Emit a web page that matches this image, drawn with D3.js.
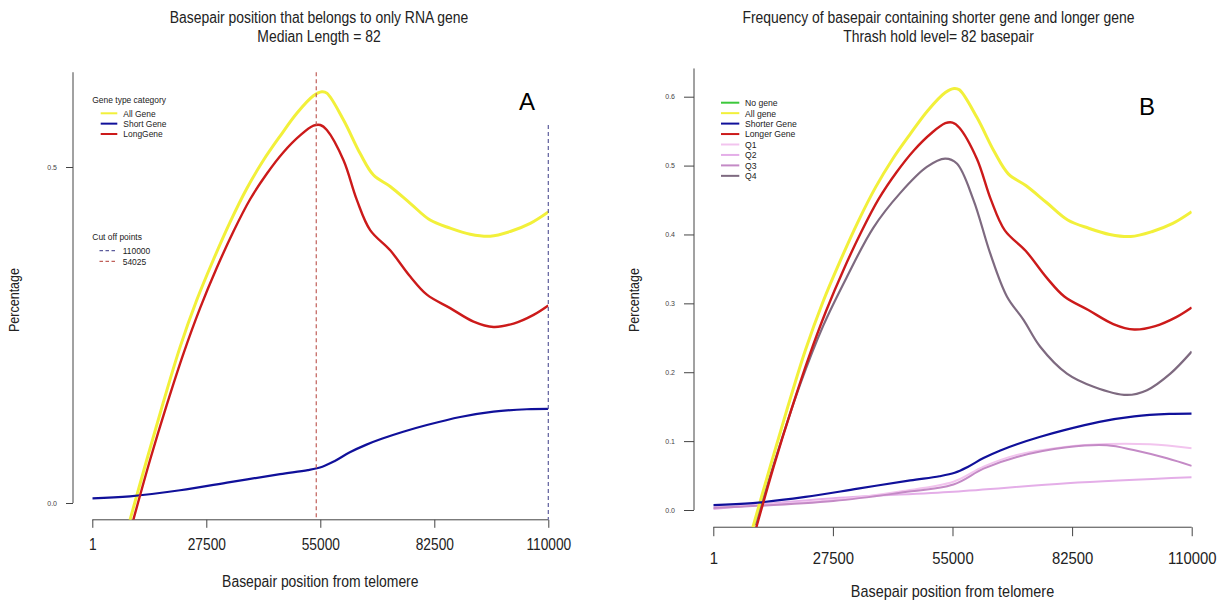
<!DOCTYPE html>
<html lang="en">
<head>
<meta charset="UTF-8">
<title>Basepair position plots</title>
<script src="https://d3js.org/d3.v7.min.js"></script>
<style>
  body { margin: 0; background: #fff; }
  text { font-family: "Liberation Sans", Arial, sans-serif; fill: #222; }
</style>
</head>
<body>
<svg id="fig" width="1227" height="601"></svg>
<script>
// values: [basepair position, fraction]
const allGene = [[9100,-0.025],[13130,0.064],[17140,0.150],[21170,0.232],[25200,0.302],[29210,0.362],[33240,0.418],[37270,0.468],[41280,0.510],[45300,0.546],[49340,0.580],[53350,0.606],[55370,0.612],[56580,0.610],[60600,0.570],[64620,0.520],[67830,0.488],[71860,0.471],[76690,0.446],[81500,0.421],[86330,0.409],[91160,0.400],[95990,0.397],[100820,0.404],[105650,0.416],[110000,0.433]];
const longGene = [[9900,-0.025],[13930,0.064],[17960,0.146],[21970,0.222],[26000,0.290],[30030,0.350],[34040,0.404],[38070,0.452],[42090,0.490],[46110,0.522],[50130,0.547],[53350,0.5615],[55000,0.5625],[56580,0.555],[60600,0.510],[63810,0.451],[67030,0.406],[71860,0.376],[76690,0.337],[80710,0.310],[86330,0.290],[91960,0.270],[96790,0.262],[101620,0.267],[106450,0.280],[110000,0.294]];
const shortGene = [[1,0.007],[9100,0.010],[21170,0.019],[33240,0.031],[45300,0.043],[52000,0.049],[55500,0.054],[58500,0.0625],[62130,0.0755],[66000,0.0865],[69810,0.0955],[75000,0.106],[80710,0.116],[88750,0.128],[96790,0.136],[104840,0.1395],[110000,0.140]];
const q1 = [[1,0.004],[27610,0.0145],[42960,0.027],[55220,0.041],[62130,0.063],[69810,0.080],[81310,0.092],[90530,0.0958],[100470,0.0953],[110000,0.0895]];
const q2 = [[1,0.0015],[27610,0.017],[55220,0.0266],[81310,0.0387],[110000,0.0474]];
const q3 = [[1,0.003],[27610,0.013],[42960,0.025],[55220,0.037],[62130,0.060],[69810,0.077],[81310,0.091],[90530,0.094],[96640,0.087],[104320,0.075],[110000,0.064]];
const q4 = [[9600,-0.022],[14590,0.080],[19950,0.182],[25310,0.268],[30690,0.338],[36820,0.410],[42960,0.460],[49100,0.498],[53300,0.510],[56000,0.503],[59830,0.450],[63670,0.3725],[67510,0.310],[71330,0.276],[75170,0.237],[81310,0.198],[87440,0.179],[95120,0.167],[99720,0.174],[105090,0.198],[110000,0.230]];

const xTicks = [1, 27500, 55000, 82500, 110000];
const yTicksA = [0.0, 0.5];
const yTicksB = [0.0, 0.1, 0.2, 0.3, 0.4, 0.5, 0.6];
const cutOffs = [110000, 54025];
const cutOffTops = [0.5625, 0.641];

const legendA = ["All Gene", "Short Gene", "LongGene"];
const legendB = ["No gene", "All gene", "Shorter Gene", "Longer Gene", "Q1", "Q2", "Q3", "Q4"];

const col = {
  none: "#3cc83c", all: "#f2f03a", short: "#10109a", long: "#cc1a1a",
  q1: "#f2c4ee", q2: "#e4aee8", q3: "#c48ac6", q4: "#7e6a80",
  cutBlue: "#5c5c9c", cutRed: "#c0605a"
};

const svg = d3.select("#fig");
const SX = 0.87; // the picture is squeezed sideways

function txt(g, s, x, y, size, anchor, sx) {
  return g.append("text")
    .attr("transform", `translate(${x},${y}) scale(${sx || SX},1)`)
    .attr("text-anchor", anchor || "start")
    .style("font-size", size + "px")
    .text(s);
}

function panel(cfg) {
  const g = svg.append("g");
  const x = d3.scaleLinear().domain([1, 110000]).range(cfg.xr);
  const y = d3.scaleLinear().domain([0, cfg.yTickMax]).range([cfg.y0, cfg.yTickPx]);
  const yBot = y(-0.025), yTop = y(0.641);

  g.append("clipPath").attr("id", "clip" + cfg.id)
    .append("rect").attr("x", cfg.xr[0]).attr("y", yTop)
    .attr("width", cfg.xr[1] - cfg.xr[0]).attr("height", yBot - yTop);

  // x axis
  const xa = g.append("g").attr("transform", `translate(0,${yBot})`)
    .call(d3.axisBottom(x).tickValues(xTicks).tickFormat(d3.format("d"))
      .tickSize(cfg.xTick).tickSizeOuter(0).tickPadding(cfg.xPad));
  xa.selectAll("text").style("font-size", cfg.xFont + "px").attr("transform", `scale(${cfg.xSx},1)`).style("fill", "#222");
  xa.selectAll("path,line").attr("stroke", "#444");
  xa.select(".domain").attr("d", `M${cfg.xr[0]},0H${cfg.xr[1]}`);

  // y axis
  const yAx = y.copy().domain([0, 0.641]).range([y(0), yTop]);
  const ya = g.append("g").attr("transform", `translate(${cfg.yAxisX},0)`)
    .call(d3.axisLeft(yAx).tickValues(cfg.yTicks).tickFormat(d3.format(".1f"))
      .tickSize(cfg.yTick).tickSizeOuter(0).tickPadding(9));
  ya.selectAll("text").style("font-size", "7px").style("fill", "#444");
  ya.selectAll("path,line").attr("stroke", "#444");
  ya.select(".domain").attr("d", `M0,${y(0)}V${yTop}`);

  const line = d3.line().x(d => x(d[0])).y(d => y(d[1])).curve(d3.curveCatmullRom.alpha(0.5));
  const curves = g.append("g").attr("clip-path", `url(#clip${cfg.id})`);
  cfg.series.forEach(s => {
    curves.append("path").datum(s.data).attr("d", line)
      .attr("fill", "none").attr("stroke", s.color).attr("stroke-width", s.w)
      .attr("stroke-linejoin", "round");
  });

  if (cfg.cut) {
    cutOffs.forEach((c, i) => {
      g.append("line").attr("x1", x(c)).attr("x2", x(c))
        .attr("y1", y(cutOffTops[i])).attr("y2", yBot)
        .attr("stroke", i === 0 ? col.cutBlue : col.cutRed)
        .attr("stroke-width", 1.2).attr("stroke-dasharray", "4,3");
    });
  }

  // titles
  txt(g, cfg.title[0], cfg.tx, 23, 16, "middle", cfg.tsx[0]);
  txt(g, cfg.title[1], cfg.tx, 42, 16, "middle", cfg.tsx[1]);
  txt(g, "Basepair position from telomere", (cfg.xr[0] + cfg.xr[1]) / 2, cfg.xTitleY, 16, "middle", cfg.xTitleSx);
  g.append("text").attr("transform", `translate(${cfg.yTitleX},${cfg.yTitleY}) rotate(-90)`)
    .attr("text-anchor", "middle").style("font-size", "15px").attr("textLength", 64)
    .attr("lengthAdjust", "spacingAndGlyphs").text("Percentage");
  g.append("text").attr("x", cfg.letter[0]).attr("y", cfg.letter[1])
    .attr("text-anchor", "middle").style("font-size", "24px").style("fill", "#000")
    .text(cfg.id);
  return { g, x, y };
}

// Panel A
const A = panel({
  id: "A", xr: [92.3, 548.3], y0: 503, yTickMax: 0.5, yTickPx: 167, yAxisX: 73,
  yTicks: yTicksA, yTick: 7, xTick: 8, xPad: 11, xFont: 16, xSx: 0.86,
  series: [
    { data: allGene, color: col.all, w: 3 },
    { data: shortGene, color: col.short, w: 2.2 },
    { data: longGene, color: col.long, w: 2.4 }
  ],
  cut: true,
  title: ["Basepair position that belongs to only RNA gene", "Median Length = 82"],
  tsx: [0.87, 0.87], tx: 319,
  xTitleY: 587, xTitleSx: 0.87, yTitleX: 19, yTitleY: 300, letter: [527, 110]
});

// legend A
{
  const g = A.g;
  txt(g, "Gene type category", 92.3, 102.6, 9.5, "start", 0.89);
  [col.all, col.short, col.long].forEach((c, i) => {
    const yy = 113.3 + i * 10.35;
    g.append("line").attr("x1", 100.7).attr("x2", 117.3).attr("y1", yy).attr("y2", yy)
      .attr("stroke", c).attr("stroke-width", 2);
    txt(g, legendA[i], 123.3, yy + 3.4, 9.5, "start", 0.89);
  });
  txt(g, "Cut off points", 92.3, 240, 9.5, "start", 0.89);
  cutOffs.forEach((c, i) => {
    const yy = 250.7 + i * 10.7;
    g.append("line").attr("x1", 99.5).attr("x2", 116.5).attr("y1", yy).attr("y2", yy)
      .attr("stroke", i === 0 ? col.cutBlue : col.cutRed).attr("stroke-width", 1.2)
      .attr("stroke-dasharray", "3.5,2.5");
    txt(g, String(c), 122.7, yy + 3.4, 9.5, "start", 0.89);
  });
}

// Panel B
const B = panel({
  id: "B", xr: [713.3, 1191.7], y0: 510, yTickMax: 0.6, yTickPx: 96.7, yAxisX: 694,
  yTicks: yTicksB, yTick: 10, xTick: 9, xPad: 16, xFont: 16.5, xSx: 0.9,
  series: [
    { data: q2, color: col.q2, w: 2 },
    { data: q1, color: col.q1, w: 2 },
    { data: q3, color: col.q3, w: 2 },
    { data: q4, color: col.q4, w: 2.2 },
    { data: allGene, color: col.all, w: 3 },
    { data: shortGene, color: col.short, w: 2.2 },
    { data: longGene, color: col.long, w: 2.4 }
  ],
  cut: false,
  title: ["Frequency of basepair containing shorter gene  and longer gene", "Thrash hold level= 82 basepair"],
  tsx: [0.87, 0.87], tx: 938.5,
  xTitleY: 597, xTitleSx: 0.9, yTitleX: 639, yTitleY: 300, letter: [1147, 115]
});

// legend B
{
  const g = B.g;
  const lc = [col.none, col.all, col.short, col.long, col.q1, col.q2, col.q3, col.q4];
  legendB.forEach((s, i) => {
    const yy = 102.7 + i * 10.45;
    g.append("line").attr("x1", 721).attr("x2", 739.3).attr("y1", yy).attr("y2", yy)
      .attr("stroke", lc[i]).attr("stroke-width", 2);
    txt(g, s, 745, yy + 3.4, 9.8, "start", 0.88);
  });
}
</script>
</body>
</html>
